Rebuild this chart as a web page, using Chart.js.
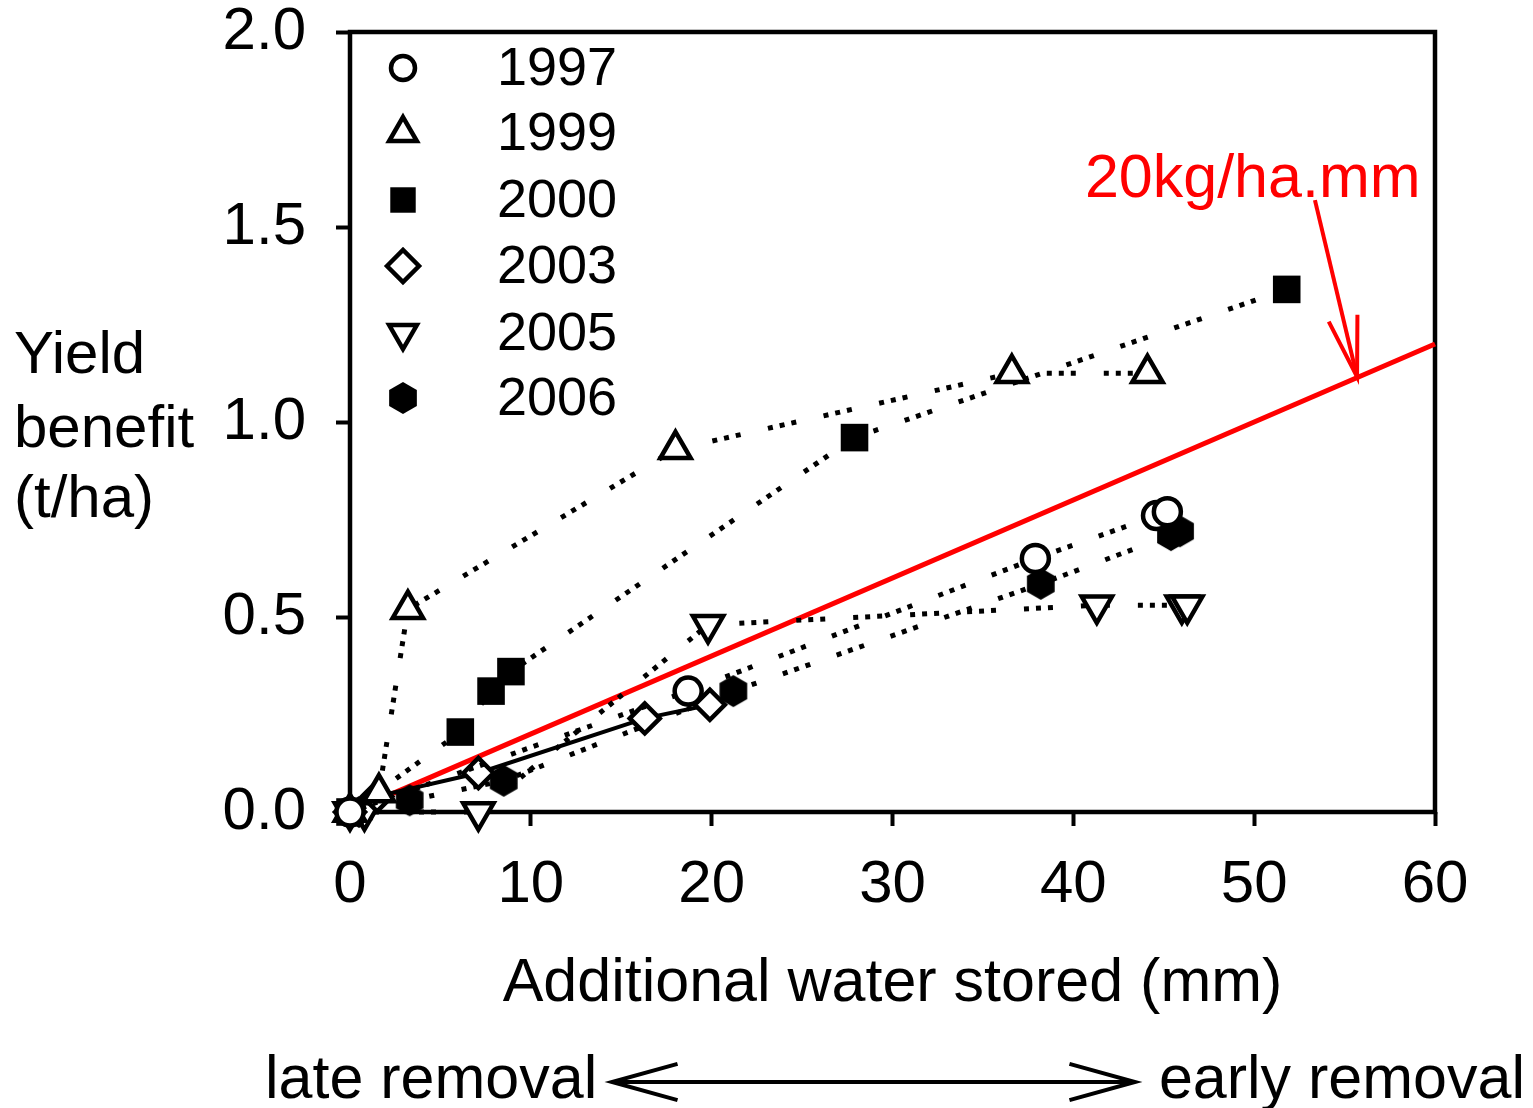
<!DOCTYPE html>
<html>
<head>
<meta charset="utf-8">
<script src="https://cdn.jsdelivr.net/npm/chart.js@4.4.1/dist/chart.umd.min.js"></script>
<style>
html, body { margin: 0; padding: 0; background: #fff; }
</style>
</head>
<body>
<canvas id="chart" width="1533" height="1108"></canvas>
<script>
const FONT = "'Liberation Sans', Arial, sans-serif";

// data: additional water stored (mm) vs yield benefit (t/ha)
const years = ['1997', '1999', '2000', '2003', '2005', '2006'];
const x1997 = [0, 18.7, 37.9, 44.6, 45.2];
const y1997 = [0, 0.31, 0.65, 0.76, 0.77];
const x1999 = [0, 1.6, 3.2, 18.0, 36.6, 44.1];
const y1999 = [0, 0.05, 0.52, 0.93, 1.125, 1.125];
const x2000 = [0, 6.1, 7.8, 8.9, 27.9, 51.8];
const y2000 = [0, 0.205, 0.31, 0.36, 0.96, 1.34];
const x2003 = [0, 1.5, 7.1, 16.3, 19.9];
const y2003 = [0, 0.04, 0.10, 0.24, 0.275];
const x2005 = [0, 0.8, 7.1, 19.8, 41.3, 46.0, 46.3];
const y2005 = [0, 0, 0, 0.48, 0.53, 0.53, 0.53];
const x2006 = [0, 0.5, 3.3, 8.5, 21.2, 38.2, 45.4, 45.9];
const y2006 = [0, 0, 0.03, 0.08, 0.31, 0.585, 0.71, 0.72];

// 20 kg/ha.mm reference line
const refX = [2, 60];
const refY = [0.04, 1.2];

const xTicks = [0, 10, 20, 30, 40, 50, 60];
const yTicks = [0, 0.5, 1.0, 1.5, 2.0];

function pts(xs, ys) {
    return xs.map((x, i) => ({x: x, y: ys[i]}));
}

function hexagon(r) {
    const c = document.createElement('canvas');
    const s = Math.ceil(r * 2 + 2);
    c.width = s;
    c.height = s;
    const g = c.getContext('2d');
    g.beginPath();
    for(let i = 0; i < 6; i++) {
        const a = Math.PI / 3 * i - Math.PI / 2;
        g.lineTo(s / 2 + r * Math.cos(a), s / 2 + r * Math.sin(a));
    }
    g.closePath();
    g.fillStyle = '#000';
    g.fill();
    return c;
}
const hexImg = hexagon(16);

// sigmaplot-ish dots: three dots then a gap
const dotted = [5, 7, 5, 7, 5, 28];
const markers = {
    '1997': {pointStyle: 'circle', pointRadius: 13.5, pointBackgroundColor: '#fff', pointBorderWidth: 4.5, pointRotation: 0},
    '1999': {pointStyle: 'triangle', pointRadius: 17.5, pointBackgroundColor: '#fff', pointBorderWidth: 4.5, pointRotation: 0},
    '2000': {pointStyle: 'rect', pointRadius: 19.5, pointBackgroundColor: '#000', pointBorderWidth: 0, pointRotation: 0},
    '2003': {pointStyle: 'rectRot', pointRadius: 15, pointBackgroundColor: '#fff', pointBorderWidth: 4.5, pointRotation: 0},
    '2005': {pointStyle: 'triangle', pointRadius: 17.5, pointBackgroundColor: '#fff', pointBorderWidth: 4.5, pointRotation: 180},
    '2006': {pointStyle: hexImg, pointRadius: 16, pointBackgroundColor: '#000', pointBorderWidth: 0, pointRotation: 0}
};
const seriesData = {
    '1997': pts(x1997, y1997),
    '1999': pts(x1999, y1999),
    '2000': pts(x2000, y2000),
    '2003': pts(x2003, y2003),
    '2005': pts(x2005, y2005),
    '2006': pts(x2006, y2006)
};

const datasets = years.map(year => Object.assign({
    label: year,
    data: seriesData[year],
    showLine: true,
    borderColor: '#000',
    borderWidth: year == '2003' ? 4 : 5,
    borderDash: year == '2003' ? [] : dotted,
    borderCapStyle: 'butt',
    pointBorderColor: '#000',
    tension: 0,
    clip: false
}, markers[year]));

datasets.push({
    label: 'ref',
    data: pts(refX, refY),
    showLine: true,
    borderColor: '#ff0000',
    borderWidth: 5,
    pointRadius: 0,
    clip: false
});

const framePlugin = {
    id: 'frame',
    beforeDatasetsDraw(chart) {
        const {ctx, chartArea: a} = chart;
        ctx.save();
        ctx.strokeStyle = '#000';
        ctx.lineWidth = 4.5;
        ctx.strokeRect(a.left, a.top, a.right - a.left, a.bottom - a.top);
        ctx.restore();
    }
};

function openArrowHead(ctx, tx, ty, fx, fy, len, half) {
    const ang = Math.atan2(fy - ty, fx - tx);
    ctx.beginPath();
    ctx.moveTo(tx + len * Math.cos(ang - half), ty + len * Math.sin(ang - half));
    ctx.lineTo(tx, ty);
    ctx.lineTo(tx + len * Math.cos(ang + half), ty + len * Math.sin(ang + half));
    ctx.stroke();
}

const notesPlugin = {
    id: 'notes',
    afterDraw(chart) {
        const {ctx} = chart;
        const xs = chart.scales.x, ys = chart.scales.y;
        ctx.save();

        // y axis title
        ctx.fillStyle = '#000';
        ctx.font = '60px ' + FONT;
        ctx.textAlign = 'left';
        ctx.textBaseline = 'alphabetic';
        ctx.fillText('Yield', 14, 373);
        ctx.fillText('benefit', 14, 447);
        ctx.fillText('(t/ha)', 14, 517);

        // legend
        ctx.font = '54px ' + FONT;
        ctx.textBaseline = 'middle';
        const rows = [68, 133, 200, 266, 333, 398];
        years.forEach((year, i) => {
            const m = markers[year];
            const cx = 403, cy = rows[i];
            if(m.pointStyle === hexImg) {
                ctx.drawImage(hexImg, cx - hexImg.width / 2, cy - hexImg.height / 2);
            } else {
                ctx.fillStyle = m.pointBackgroundColor;
                ctx.strokeStyle = '#000';
                ctx.lineWidth = m.pointBorderWidth;
                let r = m.pointRadius;
                if(m.pointStyle == 'circle') r = 12;
                if(m.pointStyle == 'triangle') r = 16;
                if(m.pointStyle == 'rect') r = 18;
                if(m.pointStyle == 'rectRot') r = 16;
                Chart.helpers.drawPoint(ctx, {
                    pointStyle: m.pointStyle,
                    rotation: m.pointRotation,
                    radius: r,
                    borderWidth: m.pointBorderWidth
                }, cx, cy);
            }
            ctx.fillStyle = '#000';
            ctx.fillText(year, 497, cy + 2);
        });

        // 20 kg/ha.mm annotation
        ctx.fillStyle = '#ff0000';
        ctx.strokeStyle = '#ff0000';
        ctx.font = '61px ' + FONT;
        ctx.textAlign = 'right';
        ctx.textBaseline = 'alphabetic';
        ctx.fillText('20kg/ha.mm', xs.getPixelForValue(59.2), ys.getPixelForValue(1.577));
        const ax0 = xs.getPixelForValue(53.36), ay0 = ys.getPixelForValue(1.569);
        const ax1 = xs.getPixelForValue(55.69), ay1 = ys.getPixelForValue(1.116);
        ctx.lineWidth = 4;
        ctx.beginPath();
        ctx.moveTo(ax0, ay0);
        ctx.lineTo(ax1, ay1);
        ctx.stroke();
        openArrowHead(ctx, ax1, ay1, ax0, ay0, 62, 0.24);

        // late / early removal
        ctx.fillStyle = '#000';
        ctx.strokeStyle = '#000';
        ctx.font = '61px ' + FONT;
        ctx.textAlign = 'left';
        ctx.fillText('late removal', 265, 1098);
        ctx.textAlign = 'right';
        ctx.fillText('early removal', 1525, 1098);
        ctx.lineWidth = 4;
        ctx.beginPath();
        ctx.moveTo(614, 1082);
        ctx.lineTo(1133, 1082);
        ctx.stroke();
        openArrowHead(ctx, 612, 1082, 700, 1082, 68, 0.27);
        openArrowHead(ctx, 1135, 1082, 1000, 1082, 68, 0.27);

        ctx.restore();
    }
};

const axisFont = {family: FONT, size: 60, lineHeight: 1};

new Chart(document.getElementById('chart'), {
    type: 'scatter',
    data: {datasets: datasets},
    options: {
        responsive: false,
        animation: false,
        devicePixelRatio: 1,
        layout: {padding: {left: 0, top: 32, right: 98, bottom: 0}},
        plugins: {
            legend: {display: false},
            tooltip: {enabled: false}
        },
        scales: {
            x: {
                type: 'linear',
                min: 0,
                max: 60,
                afterBuildTicks: s => { s.ticks = xTicks.map(v => ({value: v})); },
                ticks: {font: axisFont, color: '#000', padding: 29, maxRotation: 0},
                grid: {drawOnChartArea: false, drawTicks: true, tickLength: 14, tickWidth: 4, tickColor: '#000'},
                border: {display: false},
                title: {
                    display: true,
                    text: 'Additional water stored (mm)',
                    font: {family: FONT, size: 61, lineHeight: 1},
                    color: '#000',
                    padding: {top: 0, bottom: 93}
                },
                afterFit: s => {
                    s.height = 296;
                    s.paddingLeft = 0;
                    s.paddingRight = 0;
                }
            },
            y: {
                type: 'linear',
                min: 0,
                max: 2,
                afterBuildTicks: s => { s.ticks = yTicks.map(v => ({value: v})); },
                ticks: {font: axisFont, color: '#000', padding: 30, callback: v => v.toFixed(1)},
                grid: {drawOnChartArea: false, drawTicks: true, tickLength: 14, tickWidth: 4, tickColor: '#000'},
                border: {display: false},
                afterFit: s => {
                    s.width = 350;
                    s.paddingTop = 0;
                    s.paddingBottom = 0;
                }
            }
        }
    },
    plugins: [framePlugin, notesPlugin]
});
</script>
</body>
</html>
